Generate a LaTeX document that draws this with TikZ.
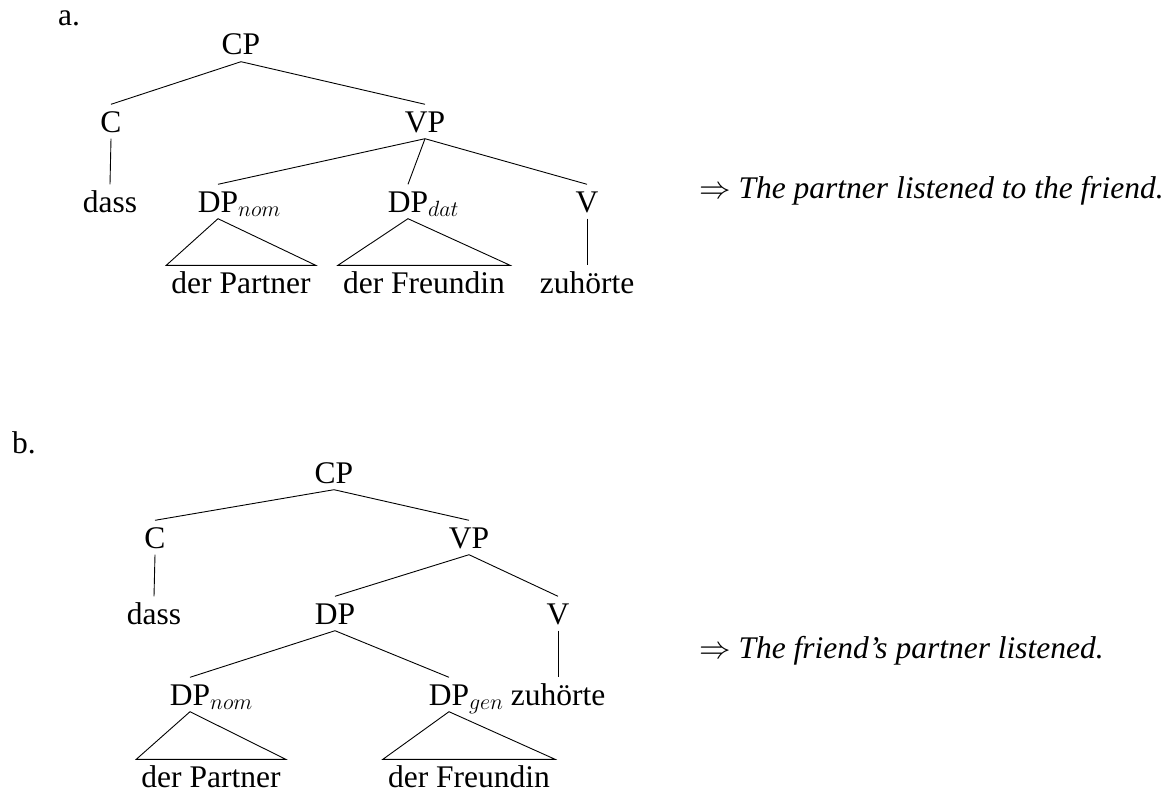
\RequirePackage{fix-cm}
\documentclass[tikz,border=0pt]{standalone}
\usepackage{fontspec}
\setmainfont{Liberation Serif}
\begin{document}
\begin{tikzpicture}[x=1pt,y=-1pt,
  every node/.style={font=\fontsize{31.5}{38}\selectfont},
  lab/.style={anchor=base, inner xsep=5pt, inner ysep=6.5pt, text height=21pt, text depth=0pt},
  sent/.style={anchor=base west, inner sep=0pt},
  branch/.style={line width=0.9pt}]
\useasboundingbox (0,0) rectangle (1171,792);
% ---------- a ----------
\node[sent] (la) at (58,26) {a.};
\node[lab] (CPa) at (241,55) {CP};
\node[lab] (Ca) at (111,132) {C};
\node[lab] (VPa) at (425,132) {VP};
\node[lab] (dassa) at (110,212) {dass};
\node[lab] (DPnoma) at (218,212) {DP\rlap{$_{nom}$}};
\node[lab] (DPdata) at (408,212) {DP\rlap{$_{dat}$}};
\node[lab] (Va) at (587,212) {V};
\node[lab] (Partnera) at (241,293) {der Partner};
\node[lab] (Freundina) at (424,293) {der Freundin};
\node[lab] (zuha) at (587,293) {zuhörte};
\node[sent] (senta) at (699,198) {$\Rightarrow$ \textit{The partner listened to the friend.}};
\draw[branch] (CPa.south) -- (Ca.north);
\draw[branch] (CPa.south) -- (VPa.north);
\draw[branch] (Ca.south) -- (dassa.north);
\draw[branch] (VPa.south) -- (DPnoma.north);
\draw[branch] (VPa.south) -- (DPdata.north);
\draw[branch] (VPa.south) -- (Va.north);
\draw[branch] (DPnoma.south) -- (Partnera.north west) -- (Partnera.north east) -- cycle;
\draw[branch] (DPdata.south) -- (Freundina.north west) -- (Freundina.north east) -- cycle;
\draw[branch] (Va.south) -- (zuha.north);
% ---------- b ----------
\node[sent] (lb) at (12,453) {b.};
\node[lab] (CPb) at (334,483) {CP};
\node[lab] (Cb) at (155,548) {C};
\node[lab] (VPb) at (469,548) {VP};
\node[lab] (dassb) at (154,624) {dass};
\node[lab] (DPb) at (335,624) {DP};
\node[lab] (Vb) at (558,624) {V};
\node[lab] (DPnomb) at (190,705) {DP\rlap{$_{nom}$}};
\node[lab] (DPgenb) at (449,705) {DP\rlap{$_{gen}$}};
\node[lab] (zuhb) at (558,705) {zuhörte};
\node[lab] (Partnerb) at (211,787) {der Partner};
\node[lab] (Freundinb) at (469,787) {der Freundin};
\node[sent] (sentb) at (699,658) {$\Rightarrow$ \textit{The friend's partner listened.}};
\draw[branch] (CPb.south) -- (Cb.north);
\draw[branch] (CPb.south) -- (VPb.north);
\draw[branch] (Cb.south) -- (dassb.north);
\draw[branch] (VPb.south) -- (DPb.north);
\draw[branch] (VPb.south) -- (Vb.north);
\draw[branch] (DPb.south) -- (DPnomb.north);
\draw[branch] (DPb.south) -- (DPgenb.north);
\draw[branch] (Vb.south) -- (zuhb.north);
\draw[branch] (DPnomb.south) -- (Partnerb.north west) -- (Partnerb.north east) -- cycle;
\draw[branch] (DPgenb.south) -- (Freundinb.north west) -- (Freundinb.north east) -- cycle;
\end{tikzpicture}
\end{document}
